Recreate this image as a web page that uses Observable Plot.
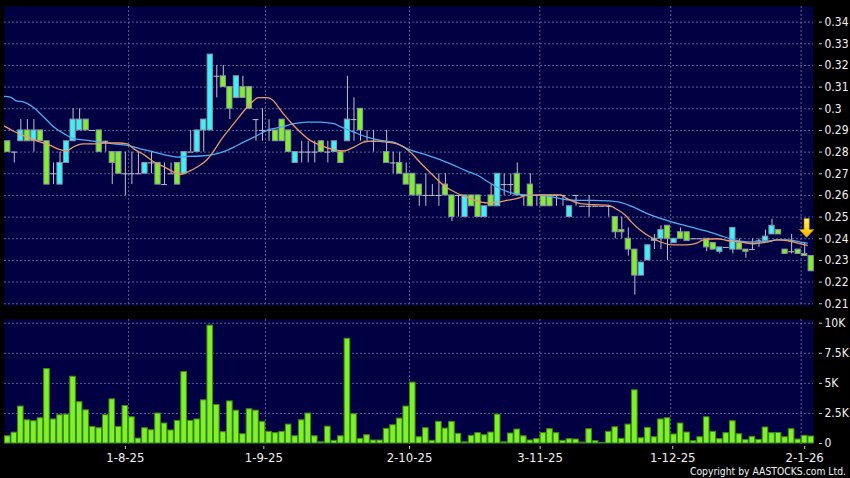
<!DOCTYPE html>
<html>
<head>
<meta charset="utf-8">
<script src="https://cdn.jsdelivr.net/npm/d3@7"></script>
<script src="https://cdn.jsdelivr.net/npm/@observablehq/plot@0.6"></script>
<style>
html, body { margin: 0; padding: 0; background: #000; }
#chart { position: relative; width: 850px; height: 478px; background: #000; overflow: hidden; }
#price { position: absolute; left: 0; top: 0; }
#vol { position: absolute; left: 0; top: 310px; }
#copy { position: absolute; right: 4px; top: 465px; color: #f0f0f0;
  font-family: "DejaVu Sans Condensed", "DejaVu Sans", sans-serif; font-stretch: condensed; font-size: 10.3px; line-height: 12px; }
</style>
</head>
<body>
<div id="chart"><div id="price"></div><div id="vol"></div><div id="copy">Copyright by AASTOCKS.com Ltd.</div></div>
<script>
// ---- data (one entry per trading day) ----
const open = [
.285,.28,.285,.29,.285,.29,.285,.27,.265,.275,
.285,.29,.295,.29,.29,.285,.28,.28,.27,.27,
.27,.27,.275,.275,.265,.27,.275,.27,.28,.28,
.29,.29,.315,.315,.31,.305,.31,.31,.295,.29,
.29,.29,.295,.29,.275,.28,.28,.28,.285,.28,
.28,.28,.285,.295,.30,.285,.285,.285,.28,.275,
.275,.27,.27,.265,.26,.26,.26,.265,.26,.26,
.25,.26,.26,.25,.26,.255,.265,.265,.27,.26,
.265,.26,.26,.26,.26,.26,.25,.26,.255,.255,
.255,.255,.255,.25,.244,.24,.235,.223,.23,.239,
.24,.246,.238,.243,.243,.24,.24,.24,.238,.234,
.236,.235,.238,.235,.235,.239,.239,.242,.244,.235,
.234,.235,.233,.232];
const close = [
.28,.28,.29,.285,.29,.285,.265,.27,.275,.285,
.295,.295,.29,.29,.28,.285,.275,.27,.27,.27,
.27,.275,.275,.265,.265,.27,.265,.28,.28,.29,
.295,.325,.315,.31,.30,.315,.305,.30,.295,.29,
.29,.285,.285,.28,.28,.28,.28,.28,.28,.28,
.285,.275,.295,.295,.29,.285,.285,.285,.275,.275,
.27,.265,.26,.26,.26,.26,.26,.26,.25,.26,
.26,.255,.25,.255,.255,.27,.265,.265,.26,.26,
.255,.26,.255,.255,.26,.26,.255,.26,.255,.255,
.255,.255,.255,.243,.243,.235,.223,.229,.237,.24,
.244,.24,.24,.24,.239,.24,.24,.236,.235,.236,
.236,.245,.235,.234,.235,.239,.241,.246,.242,.233,
.234,.233,.232,.225];
const high = [
.285,.28,.295,.295,.295,.29,.285,.275,.28,.285,
.30,.30,.295,.29,.29,.285,.28,.28,.28,.28,
.28,.275,.28,.275,.275,.275,.275,.28,.29,.29,
.295,.325,.32,.32,.31,.315,.315,.31,.295,.30,
.295,.29,.295,.29,.28,.285,.285,.285,.285,.285,
.285,.28,.315,.305,.30,.29,.29,.285,.29,.28,
.28,.275,.27,.265,.27,.265,.27,.27,.26,.26,
.26,.26,.26,.255,.265,.27,.27,.27,.275,.26,
.27,.26,.26,.26,.26,.26,.255,.26,.255,.26,
.255,.255,.255,.25,.25,.245,.235,.229,.237,.242,
.246,.246,.24,.245,.243,.24,.24,.24,.238,.236,
.236,.245,.24,.235,.24,.24,.244,.249,.244,.235,
.242,.235,.238,.232];
const low = [
.28,.275,.285,.285,.28,.285,.265,.265,.265,.275,
.285,.29,.29,.29,.28,.28,.265,.27,.26,.265,
.27,.27,.27,.265,.265,.27,.265,.27,.28,.28,
.28,.29,.305,.31,.295,.305,.305,.30,.285,.285,
.285,.285,.285,.28,.275,.275,.275,.275,.28,.275,
.28,.275,.285,.285,.285,.285,.28,.285,.275,.27,
.27,.265,.26,.255,.255,.26,.255,.26,.248,.25,
.25,.255,.25,.25,.255,.255,.26,.26,.26,.255,
.255,.255,.255,.255,.255,.255,.25,.255,.255,.25,
.255,.255,.25,.24,.24,.232,.214,.223,.23,.235,
.235,.23,.238,.24,.239,.24,.24,.234,.235,.233,
.236,.233,.235,.231,.235,.236,.239,.242,.242,.233,
.233,.233,.232,.225];
const volume = [
600,900,3070,1930,1850,2100,6190,2000,2350,2400,
5550,3430,2760,1380,1270,2350,3670,1380,3120,2180,
410,1270,1100,2490,1660,1080,1880,5940,1880,2000,
3590,9800,3200,940,3500,2730,770,2850,2730,1800,
970,860,970,1570,600,1930,2490,600,100,1400,
220,600,8700,2430,390,690,250,250,1220,1520,
2070,3070,5060,520,1270,220,1800,1240,1800,800,
100,640,860,690,910,2400,100,830,1160,600,
250,360,860,1190,860,220,360,330,80,1190,
190,50,970,1350,390,1570,4420,440,1300,520,
2000,2100,750,1660,910,190,520,2180,970,360,
860,1850,770,280,550,300,1330,860,880,520,
1190,330,640,580];

// moving averages: [day index, value]
const maShort = [
[-0.5,.292],[1,.2895],[3,.2869],[5,.2846],[6.5,.2831],[8,.2811],[9,.2805],[10,.2823],[11.5,.2838],[13.5,.2838],
[15,.2842],[17,.2842],[18.3,.2838],[19.3,.2815],[21,.2785],[22.4,.2754],[24,.2731],[25.4,.2708],[26.5,.2697],[27.5,.2708],
[29,.2731],[30.5,.2765],[31.6,.2808],[32.6,.2854],[34.6,.2931],[36.7,.3008],[38.4,.3051],[39.7,.3051],[40.5,.3042],[41.8,.2992],
[43.3,.2938],[44.8,.2892],[46.3,.2854],[47.9,.2831],[49.9,.2811],[51.4,.2805],[53,.2823],[54.5,.2846],[56,.2851],[58,.2846],
[60,.2834],[61.6,.28],[63.2,.275],[64.7,.2705],[66.8,.2645],[68.8,.261],[70.3,.2592],[71.3,.258],[73.4,.2566],[74.9,.2569],
[76.4,.2577],[77.9,.2585],[79.5,.26],[81.5,.2603],[84.6,.2603],[85.6,.2585],[87.7,.2562],[89.7,.2557],[91.8,.2555],[93.3,.2535],
[94.5,.251],[95.5,.2477],[96.9,.2438],[98.4,.2408],[99.9,.2385],[101.9,.2372],[103.9,.2372],[105.5,.238],[106.5,.2395],[108.6,.24],
[110.1,.2392],[112.2,.2385],[114.2,.2377],[116.3,.2385],[117.8,.2395],[119.3,.2392],[121.4,.2377],[122.4,.237]];
const maLong = [
[-0.5,.3057],[0.4,.3054],[1.2,.3038],[2.5,.3031],[4,.3005],[5.5,.2962],[7.1,.2915],[8.6,.2885],[10.1,.2862],[12.2,.2854],
[14.2,.2846],[16.2,.2838],[18.3,.2831],[20.3,.2815],[22.4,.28],[24.4,.2785],[25.9,.2777],[27.5,.278],[29.5,.2782],[31.6,.279],
[33.6,.2808],[34.6,.2823],[36.1,.2846],[37.7,.2869],[39.7,.29],[41.8,.2915],[43.8,.2931],[45.8,.2938],[47.9,.2938],[49.9,.2931],
[50.9,.2918],[53,.2892],[55,.2869],[57.1,.2854],[59.1,.2846],[60.1,.2831],[61.6,.281],[64.2,.2786],[67.8,.2746],[70.3,.2712],
[71.9,.2693],[73.9,.2656],[75.4,.2631],[77.2,.2611],[79.3,.2602],[81.5,.26],[83.6,.2592],[85.6,.258],[87.7,.2577],[89.7,.2577],
[91.8,.2575],[93.8,.2568],[95.8,.2546],[97.4,.2523],[98.9,.2505],[100.9,.2485],[103,.2466],[105,.2451],[107,.2435],[109.1,.2415],
[110.6,.24],[112.2,.2389],[114.2,.2385],[116.3,.2389],[117.8,.2395],[119.3,.2395],[121.4,.2385],[122.4,.238]];

const priceTicks = [0.21,0.22,0.23,0.24,0.25,0.26,0.27,0.28,0.29,0.3,0.31,0.32,0.33,0.34];
const volTicks = [0, 2500, 5000, 7500, 10000];
const volTickLabels = ["0", "2.5K", "5K", "7.5K", "10K"];
const dateTickIdx = [18, 39.2, 61.5, 81.5, 101.8, 122];
const dateLabels = ["1-8-25", "1-9-25", "2-10-25", "3-11-25", "1-12-25", "2-1-26"];
const gridIdx = [18.5, 39.45, 61.5, 81.45, 101.5, 121.45];
const arrowMark = [{i: 122.3, p: 0.245}];

// ---- styles ----
const NAVY = "#000042", GRID = "#5e5e96", WICK = "#c0c0c8", EDGE = "#8a96a4";
const UP = "#3ef0fa", DOWN = "#80f02a", BLUE = "#4aaef2", ORANGE = "#e89a6a";
const FONT = "'DejaVu Sans Condensed','DejaVu Sans',sans-serif";

const candles = open.map((o, i) => ({i, open: o, close: close[i], high: high[i], low: low[i], vol: volume[i]}));
const bodies = candles.filter(d => d.open !== d.close);
const dojis = candles.filter(d => d.open === d.close);
const xDomain = [-0.5, 123.35];

const arrowSymbol = {
  draw(ctx, size) {
    const k = Math.sqrt(size / Math.PI) / 9.5;
    ctx.moveTo(-2.6 * k, -9.5 * k); ctx.lineTo(2.6 * k, -9.5 * k); ctx.lineTo(2.6 * k, 1.5 * k);
    ctx.lineTo(7.3 * k, 1.5 * k); ctx.lineTo(0, 9.5 * k); ctx.lineTo(-7.3 * k, 1.5 * k);
    ctx.lineTo(-2.6 * k, 1.5 * k); ctx.closePath();
  }
};
const defsMark = () => {
  const g = document.createElementNS("http://www.w3.org/2000/svg", "defs");
  g.innerHTML = '<linearGradient id="arrowGrad" x1="0" y1="0" x2="0" y2="1"><stop offset="0" stop-color="#fff36a"/><stop offset="0.6" stop-color="#ffd21a"/><stop offset="1" stop-color="#f5a800"/></linearGradient>';
  return g;
};

const priceChart = Plot.plot({
  width: 850, height: 310,
  marginTop: 6, marginBottom: 5, marginLeft: 4, marginRight: 37,
  style: {background: "transparent", color: "#f0f0f0", fontFamily: FONT, fontSize: "12px", fontStretch: "condensed"},
  x: {domain: xDomain, axis: null},
  y: {domain: [0.2092, 0.3472], axis: null},
  marks: [
    defsMark,
    Plot.frame({fill: NAVY, stroke: "none"}),
    Plot.ruleY(priceTicks, {y: d => d, stroke: GRID, strokeDasharray: "2,2"}),
    Plot.ruleX(gridIdx, {x: d => d, stroke: GRID, strokeDasharray: "2,2"}),
    Plot.ruleX(candles, {x: "i", y1: "low", y2: "high", stroke: WICK, strokeWidth: 1}),
    Plot.rect(bodies, {x1: d => d.i - 0.4, x2: d => d.i + 0.4, y1: "open", y2: "close",
      fill: d => d.close > d.open ? UP : DOWN, stroke: EDGE, strokeWidth: 1}),
    Plot.ruleY(dojis, {y: "open", x1: d => d.i - 0.45, x2: d => d.i + 0.45, stroke: WICK, strokeWidth: 1}),
    Plot.line(maLong, {x: d => d[0], y: d => d[1], stroke: BLUE, strokeWidth: 1.3, curve: "monotone-x"}),
    Plot.line(maShort, {x: d => d[0], y: d => d[1], stroke: ORANGE, strokeWidth: 1.3, curve: "monotone-x"}),
    Plot.dot(arrowMark, {x: "i", y: "p", symbol: arrowSymbol, r: 9.5, fill: "url(#arrowGrad)", stroke: "#b88400", strokeWidth: 0.6}),
    Plot.axisY(priceTicks, {anchor: "right", label: null, tickSize: 3, tickPadding: 3, dx: 5, stroke: "#c8c8c8",
      tickFormat: d => String(d), fill: "#f0f0f0", fontSize: 12})
  ]
});
document.getElementById("price").append(priceChart);

const volChart = Plot.plot({
  width: 850, height: 168,
  marginTop: 9, marginBottom: 34, marginLeft: 4, marginRight: 37,
  style: {background: "transparent", color: "#f0f0f0", fontFamily: FONT, fontSize: "12px", fontStretch: "condensed"},
  x: {domain: xDomain, axis: null},
  y: {domain: [-83, 10307], axis: null},
  marks: [
    Plot.frame({fill: NAVY, stroke: "none"}),
    Plot.ruleY(volTicks.slice(1), {y: d => d, stroke: GRID, strokeDasharray: "2,2"}),
    Plot.ruleX(gridIdx, {x: d => d, stroke: GRID, strokeDasharray: "2,2"}),
    Plot.rect(candles, {x1: d => d.i - 0.43, x2: d => d.i + 0.43, y1: 0, y2: "vol",
      fill: DOWN, stroke: "#3c8c12", strokeWidth: 1}),
    Plot.axisY(volTicks, {anchor: "right", label: null, tickSize: 3, tickPadding: 3, dx: 5, stroke: "#c8c8c8",
      tickFormat: d => volTickLabels[volTicks.indexOf(d)], fill: "#f0f0f0", fontSize: 12}),
    Plot.axisX(dateTickIdx, {anchor: "bottom", label: null, tickSize: 3, tickPadding: 3, dy: 2, stroke: "#c8c8c8",
      tickFormat: d => dateLabels[dateTickIdx.indexOf(d)], fill: "#f0f0f0", fontSize: 13})
  ]
});
document.getElementById("vol").append(volChart);
</script>
</body>
</html>
